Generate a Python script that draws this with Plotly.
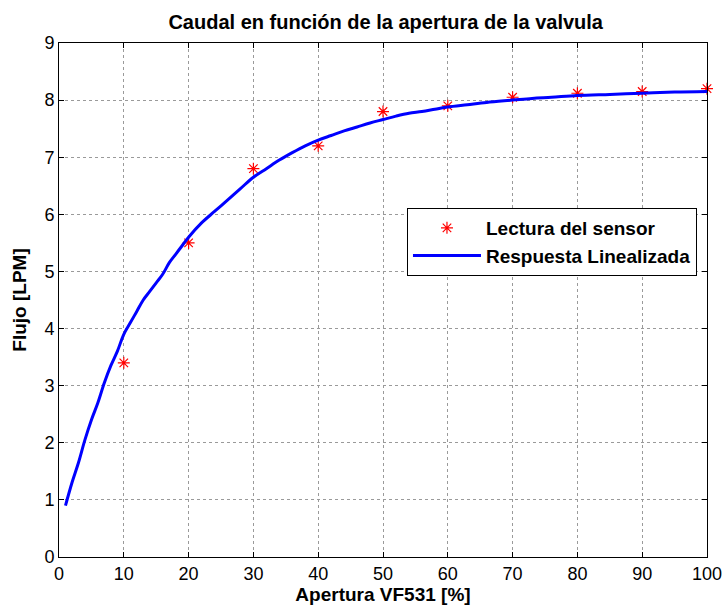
import plotly.graph_objects as go

# Sensor readings
sensor_x = [10, 20, 30, 40, 50, 60, 70, 80, 90, 100]
sensor_y = [3.4, 5.5, 6.8, 7.2, 7.8, 7.9, 8.05, 8.12, 8.15, 8.2]

# Linearized response
curve_x = [1, 2, 3, 4, 5, 6, 7, 8, 9, 10, 11, 12, 13, 14, 15, 16, 17, 18, 19, 20,
           22, 24, 26, 28, 30, 32, 34, 36, 38, 40, 42, 44, 46, 48, 50, 52, 54, 56,
           58, 60, 63, 66, 70, 73, 76, 80, 85, 90, 95, 100]
curve_y = [0.9, 1.3, 1.65, 2.05, 2.4, 2.7, 3.05, 3.35, 3.6, 3.9, 4.1, 4.3, 4.5, 4.65,
           4.8, 4.95, 5.15, 5.3, 5.45, 5.6, 5.85, 6.05, 6.25, 6.45, 6.65, 6.8, 6.95,
           7.08, 7.2, 7.3, 7.38, 7.46, 7.53, 7.6, 7.66, 7.72, 7.77, 7.8, 7.84, 7.88,
           7.92, 7.96, 8.0, 8.03, 8.05, 8.08, 8.1, 8.12, 8.14, 8.15]

x_ticks = list(range(0, 101, 10))
y_ticks = list(range(0, 10))

FONT = "Liberation Sans, Arial, sans-serif"

fig = go.Figure()
fig.add_trace(go.Scatter(
    x=sensor_x, y=sensor_y, mode="markers", name="<b>Lectura del sensor</b>",
    marker=dict(symbol="asterisk-open", size=10, color="red",
                line=dict(color="red", width=1.2)),
    cliponaxis=False,
))
fig.add_trace(go.Scatter(
    x=curve_x, y=curve_y, mode="lines", name="<b>Respuesta Linealizada</b>",
    line=dict(color="#0000ff", width=3), line_shape="spline",
))

axis_common = dict(
    showline=True, linecolor="black", linewidth=1, mirror="allticks",
    ticks="inside", ticklen=5, tickcolor="black",
    showgrid=True, gridcolor="#9a9a9a", griddash="dot", gridwidth=1,
    zeroline=False, automargin=False,
    tickfont=dict(size=18, color="black", family=FONT),
)

fig.update_layout(
    width=725, height=607,
    margin=dict(l=59, r=18, t=43, b=50),
    paper_bgcolor="white", plot_bgcolor="white",
    font=dict(family=FONT, color="black"),
    title=dict(text="<b>Caudal en función de la apertura de la valvula</b>",
               x=0.532, xanchor="center", y=0.964, yanchor="middle",
               font=dict(size=20, family=FONT)),
    xaxis=dict(range=[0, 100], tickvals=x_ticks, ticklabelstandoff=0, **axis_common,
               title=dict(text="<b>Apertura VF531 [%]</b>", font=dict(size=19), standoff=2)),
    yaxis=dict(range=[0, 9], tickvals=y_ticks, **axis_common,
               title=dict(text="<b>Flujo [LPM]</b>", font=dict(size=19), standoff=12)),
    legend=dict(x=0.537, y=0.679, xanchor="left", yanchor="top",
                bordercolor="black", borderwidth=1, bgcolor="white",
                font=dict(size=19, family=FONT), itemwidth=68,
                tracegroupgap=0),
    showlegend=True,
)

fig.write_html("out.html")
